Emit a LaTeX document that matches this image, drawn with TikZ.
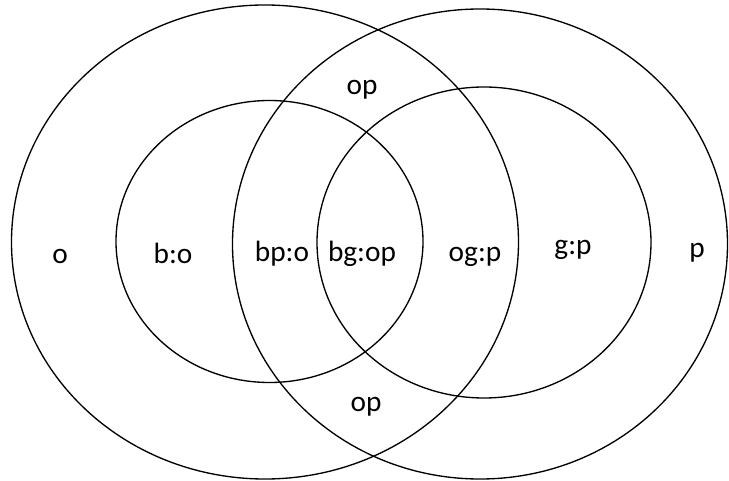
\documentclass[tikz,border=0pt]{standalone}
\usepackage{fontspec}
\setmainfont{Carlito}
\tikzset{
    region/.style={anchor=base,inner sep=0pt,font=\fontsize{22}{26}\selectfont},
}
\begin{document}
\begin{tikzpicture}[x=0.75pt,y=-0.75pt,line width=1pt]
        \useasboundingbox (0,0) rectangle (729,481);

        % centres of the four sets
        \coordinate (O) at (265,242);
        \coordinate (P) at (480,244);
        \coordinate (B) at (269.5,241.5);
        \coordinate (G) at (484,242.5);

        % draw the sets
        \draw (O) ellipse (253.5 and 237);
        \draw (P) ellipse (247.5 and 235);
        \draw (B) ellipse (153.5 and 141);
        \draw (G) ellipse (167 and 155.5);

        % label each region (x, baseline)
        \foreach \x/\y/\name/\lbl in {
            60/264/lo/o,
            173/264/lbo/b:o,
            282/262/lbpo/bp:o,
            362/262/lbgop/bg:op,
            475/262/logp/og:p,
            573/255/lgp/g:p,
            697/258/lp/p,
            362/95/loptop/op,
            366/411/lopbot/op}
                \node[region] (\name) at (\x,\y) {\lbl};
\end{tikzpicture}
\end{document}
